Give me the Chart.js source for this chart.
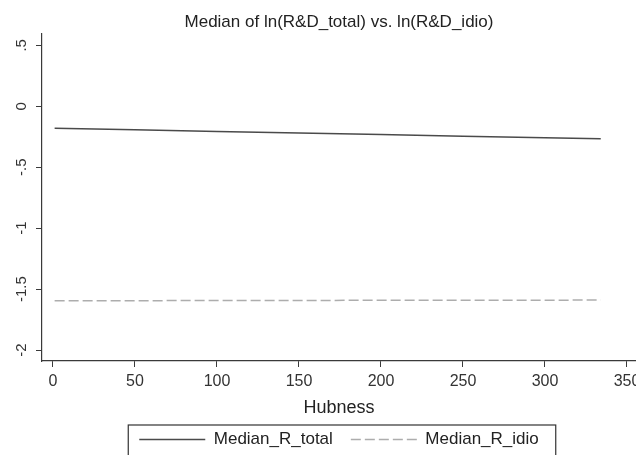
<!DOCTYPE html>
<html>
<head>
<meta charset="utf-8">
<script src="https://cdn.jsdelivr.net/npm/chart.js@4/dist/chart.umd.min.js"></script>
<style>
  html, body { margin: 0; padding: 0; background: #fff; }
  #wrap { width: 636px; height: 455px; }
</style>
</head>
<body>
<div id="wrap"><canvas id="chart"></canvas></div>
<script>
// Values
const hubness = [1, 50, 100, 150, 200, 250, 300, 334];
const medianTotal = [-0.180, -0.193, -0.206, -0.219, -0.232, -0.245, -0.258, -0.267];
const medianIdio = [-1.595, -1.595, -1.594, -1.593, -1.592, -1.592, -1.591, -1.590];
const xTicks = [0, 50, 100, 150, 200, 250, 300, 350];
const yTicks = [-2, -1.5, -1, -0.5, 0, 0.5];
const yTickLabels = ['-2', '-1.5', '-1', '-.5', '0', '.5'];

const FONT = "'Liberation Sans', Arial, sans-serif";
const axisColor = '#3a3a3a';

// Stata style: tick labels drawn by hand so y labels can be rotated
const tickLabels = {
    id: 'tickLabels',
    afterDraw(chart) {
        const ctx = chart.ctx;
        const x = chart.scales.x;
        const y = chart.scales.y;
        ctx.save();
        ctx.fillStyle = '#333';
        ctx.textAlign = 'center';
        ctx.textBaseline = 'middle';
        ctx.font = '16px ' + FONT;
        xTicks.forEach(v => {
            ctx.fillText(String(v), x.getPixelForValue(v), 382);
        });
        ctx.font = '15px ' + FONT;
        yTicks.forEach((v, i) => {
            ctx.save();
            ctx.translate(22, y.getPixelForValue(v));
            ctx.rotate(-Math.PI / 2);
            ctx.fillText(yTickLabels[i], 0, 0);
            ctx.restore();
        });
        ctx.restore();
    }
};

// border round the legend, bottom runs off the canvas like the original
const legendBox = {
    id: 'legendBox',
    afterDraw(chart) {
        const lg = chart.legend;
        if (!lg || !lg.legendHitBoxes.length) return;
        const boxes = lg.legendHitBoxes;
        const first = boxes[0];
        const last = boxes[boxes.length - 1];
        const ctx = chart.ctx;
        ctx.save();
        ctx.strokeStyle = '#333';
        ctx.lineWidth = 1.2;
        ctx.strokeRect(first.left - 11, lg.top + 12, (last.left + last.width) - first.left + 28, 60);
        ctx.restore();
    }
};

new Chart(document.getElementById('chart'), {
    type: 'line',
    data: {
        datasets: [
            {
                label: 'Median_R_total',
                data: hubness.map((h, i) => ({ x: h, y: medianTotal[i] })),
                borderColor: '#4a4a4a',
                borderWidth: 1.5,
                pointRadius: 0,
                fill: false
            },
            {
                label: 'Median_R_idio',
                data: hubness.map((h, i) => ({ x: h, y: medianIdio[i] })),
                borderColor: '#adadad',
                borderWidth: 1.5,
                borderDash: [10, 4],
                pointRadius: 0,
                fill: false
            }
        ]
    },
    options: {
        responsive: true,
        maintainAspectRatio: false,
        animation: false,
        layout: {
            padding: { left: 36, right: 0, top: 0, bottom: -3 }
        },
        plugins: {
            title: {
                display: true,
                text: 'Median of ln(R&D_total) vs. ln(R&D_idio)',
                color: '#222',
                fullSize: false,
                font: { family: FONT, size: 17, weight: 'normal' },
                padding: { top: 12, bottom: 1 }
            },
            legend: {
                position: 'bottom',
                fullSize: false,
                labels: {
                    color: '#222',
                    font: { family: FONT, size: 17 },
                    usePointStyle: true,
                    pointStyle: 'line',
                    pointStyleWidth: 66,
                    padding: 18,
                    // point style legend loses the dash, put it back from the dataset
                    generateLabels: chart => Chart.defaults.plugins.legend.labels.generateLabels(chart).map(item => {
                        const ds = chart.data.datasets[item.datasetIndex];
                        item.lineDash = ds.borderDash || [];
                        item.lineWidth = 1.5;
                        item.strokeStyle = ds.borderColor;
                        return item;
                    })
                }
            },
            tooltip: { enabled: false }
        },
        scales: {
            x: {
                type: 'linear',
                min: -6.7,
                max: 355.5,
                afterBuildTicks: s => { s.ticks = xTicks.map(v => ({ value: v })); },
                ticks: { display: false },
                grid: {
                    drawOnChartArea: false,
                    drawTicks: true,
                    tickLength: 6,
                    color: axisColor
                },
                border: { display: true, color: axisColor, width: 1.2 },
                title: {
                    display: true,
                    text: 'Hubness',
                    color: '#222',
                    font: { family: FONT, size: 18 },
                    padding: { top: 30, bottom: -5.6 }
                }
            },
            y: {
                type: 'linear',
                min: -2.09,
                max: 0.598,
                afterBuildTicks: s => { s.ticks = yTicks.map(v => ({ value: v })); },
                ticks: { display: false },
                grid: {
                    drawOnChartArea: false,
                    drawTicks: true,
                    tickLength: 6,
                    color: axisColor
                },
                border: { display: true, color: axisColor, width: 1.2 }
            }
        }
    },
    plugins: [tickLabels, legendBox]
});
</script>
</body>
</html>
